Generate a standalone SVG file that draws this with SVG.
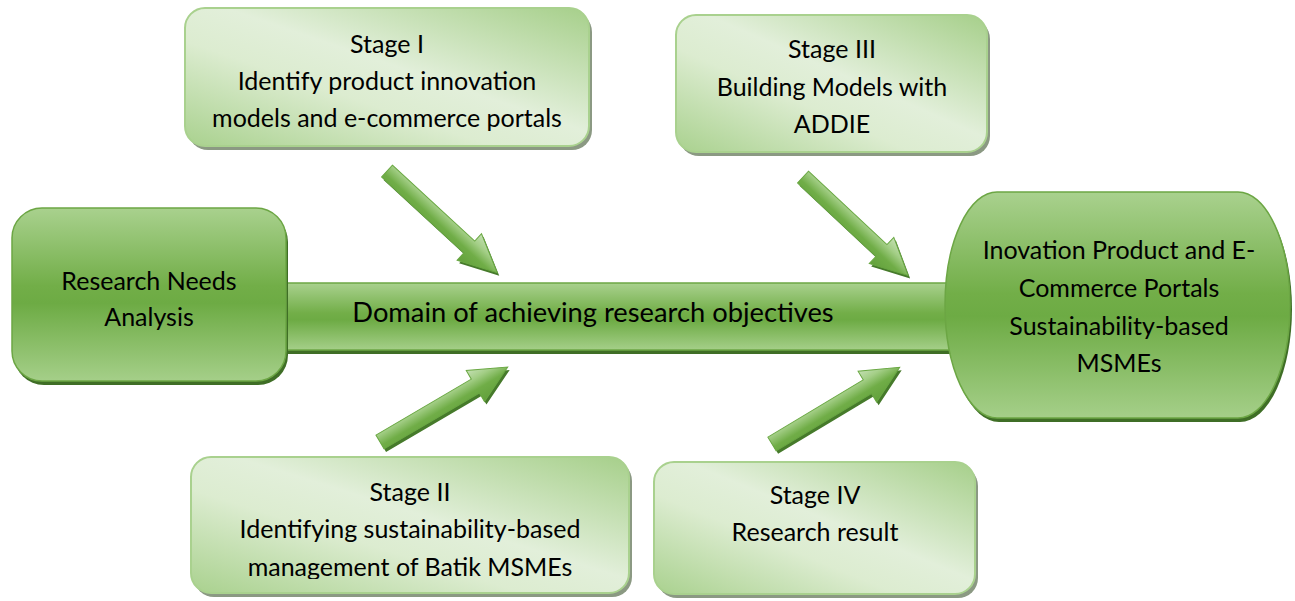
<svg xmlns="http://www.w3.org/2000/svg" xmlns:xlink="http://www.w3.org/1999/xlink" width="1295" height="601" viewBox="0 0 1295 601">
  <style>
    .t { font-family: Lato, 'Liberation Sans', sans-serif; font-size: 25px; fill: #000; text-anchor: middle; }
    .big { font-size: 27.3px; }
    .dark { fill: url(#gDark); stroke: #6ca644; stroke-width: 1.5; }
    .darkShadow { fill: #3f6e26; }
    .light { fill: url(#gLight); stroke: #a9d18e; stroke-width: 2; }
    .lightShadow { fill: #8b9983; }
    .arrow { fill: url(#gArrow); stroke: #6aa843; stroke-width: 1; }
    .arrowShadow { fill: #467a2b; }
  </style>
  <defs>
    <!-- strong green fill: light rim, saturated middle -->
    <linearGradient id="gDark" x1="0" y1="0" x2="0" y2="1">
      <stop offset="0" stop-color="#a9d18e"/>
      <stop offset="0.45" stop-color="#72ae48"/>
      <stop offset="0.55" stop-color="#6dab44"/>
      <stop offset="1" stop-color="#a5cf89"/>
    </linearGradient>
    <!-- pale diagonal sheen for the stage boxes -->
    <linearGradient id="gLight" x1="1" y1="0" x2="0" y2="1">
      <stop offset="0" stop-color="#a6cf8a"/>
      <stop offset="0.45" stop-color="#e2efda"/>
      <stop offset="0.62" stop-color="#dcecd0"/>
      <stop offset="1" stop-color="#a9d18e"/>
    </linearGradient>
    <!-- block arrow fill, across the shaft in local coordinates -->
    <linearGradient id="gArrow" gradientUnits="userSpaceOnUse" x1="0" y1="-18" x2="0" y2="18">
      <stop offset="0" stop-color="#c5e0b4"/>
      <stop offset="0.3" stop-color="#a3ce86"/>
      <stop offset="0.6" stop-color="#70ad47"/>
      <stop offset="1" stop-color="#62a03b"/>
    </linearGradient>
    <!-- block arrow, tail at origin, pointing along +x, length 150 -->
    <path id="blockArrow" d="M0,-8 H112 V-18 L150,0 L112,18 V8 H0 Z"/>
    <clipPath id="clipStage2">
      <rect x="180" y="450" width="460" height="129"/>
    </clipPath>
  </defs>

  <!-- connectors: main bar and the four block arrows -->
  <g id="connectors">
    <g id="mainBar">
      <rect class="darkShadow" x="272" y="287" width="690" height="67"/>
      <rect class="dark" x="270" y="283" width="690" height="67"/>
      <text class="t big" x="593" y="322">Domain of achieving research objectives</text>
    </g>
    <g id="arrowStage1">
      <use xlink:href="#blockArrow" class="arrowShadow" transform="translate(389,174) rotate(42.7) scale(1.0,1)"/>
      <use xlink:href="#blockArrow" class="arrow" transform="translate(387,171) rotate(42.7) scale(1.0,1)"/>
    </g>
    <g id="arrowStage2">
      <use xlink:href="#blockArrow" class="arrowShadow" transform="translate(382,445) rotate(-30.4) scale(0.987,1)"/>
      <use xlink:href="#blockArrow" class="arrow" transform="translate(380,442) rotate(-30.4) scale(0.987,1)"/>
    </g>
    <g id="arrowStage3">
      <use xlink:href="#blockArrow" class="arrowShadow" transform="translate(805,180) rotate(43.1) scale(0.96,1)"/>
      <use xlink:href="#blockArrow" class="arrow" transform="translate(803,177) rotate(43.1) scale(0.96,1)"/>
    </g>
    <g id="arrowStage4">
      <use xlink:href="#blockArrow" class="arrowShadow" transform="translate(774,447) rotate(-31) scale(0.993,1)"/>
      <use xlink:href="#blockArrow" class="arrow" transform="translate(772,444) rotate(-31) scale(0.993,1)"/>
    </g>
  </g>

  <!-- start node -->
  <g id="researchNeeds">
    <rect class="darkShadow" x="14" y="212" width="274" height="173" rx="30"/>
    <rect class="dark" x="12" y="208" width="274" height="173" rx="30"/>
    <text class="t" x="149" y="290">Research Needs</text>
    <text class="t" x="149" y="326">Analysis</text>
  </g>

  <!-- goal node -->
  <g id="outcome">
    <rect class="darkShadow" x="947" y="196" width="345" height="226" rx="52" ry="113"/>
    <rect class="dark" x="945" y="192" width="345" height="226" rx="52" ry="113"/>
    <text class="t" x="1119" y="259">Inovation Product and E-</text>
    <text class="t" x="1119" y="297">Commerce Portals</text>
    <text class="t" x="1119" y="335">Sustainability-based</text>
    <text class="t" x="1119" y="372">MSMEs</text>
  </g>

  <!-- stage boxes -->
  <g id="stage1">
    <rect class="lightShadow" x="188" y="12" width="404" height="138" rx="20"/>
    <rect class="light" x="185" y="8" width="404" height="138" rx="20"/>
    <text class="t" x="387" y="53">Stage I</text>
    <text class="t" x="387" y="90">Identify product innovation</text>
    <text class="t" x="387" y="127">models and e-commerce portals</text>
  </g>

  <g id="stage3">
    <rect class="lightShadow" x="679" y="19" width="311" height="137" rx="20"/>
    <rect class="light" x="676" y="15" width="311" height="137" rx="20"/>
    <text class="t" x="832" y="58">Stage III</text>
    <text class="t" x="832" y="96">Building Models with</text>
    <text class="t" x="832" y="133">ADDIE</text>
  </g>

  <g id="stage2">
    <rect class="lightShadow" x="194" y="461" width="438" height="136" rx="20"/>
    <rect class="light" x="191" y="457" width="438" height="136" rx="20"/>
    <g clip-path="url(#clipStage2)">
      <text class="t" x="410" y="501">Stage II</text>
      <text class="t" x="410" y="538">Identifying sustainability-based</text>
      <text class="t" x="410" y="576">management of Batik MSMEs</text>
    </g>
  </g>

  <g id="stage4">
    <rect class="lightShadow" x="657" y="466" width="321" height="132" rx="20"/>
    <rect class="light" x="654" y="462" width="321" height="132" rx="20"/>
    <text class="t" x="815" y="504">Stage IV</text>
    <text class="t" x="815" y="541">Research result</text>
  </g>
</svg>
